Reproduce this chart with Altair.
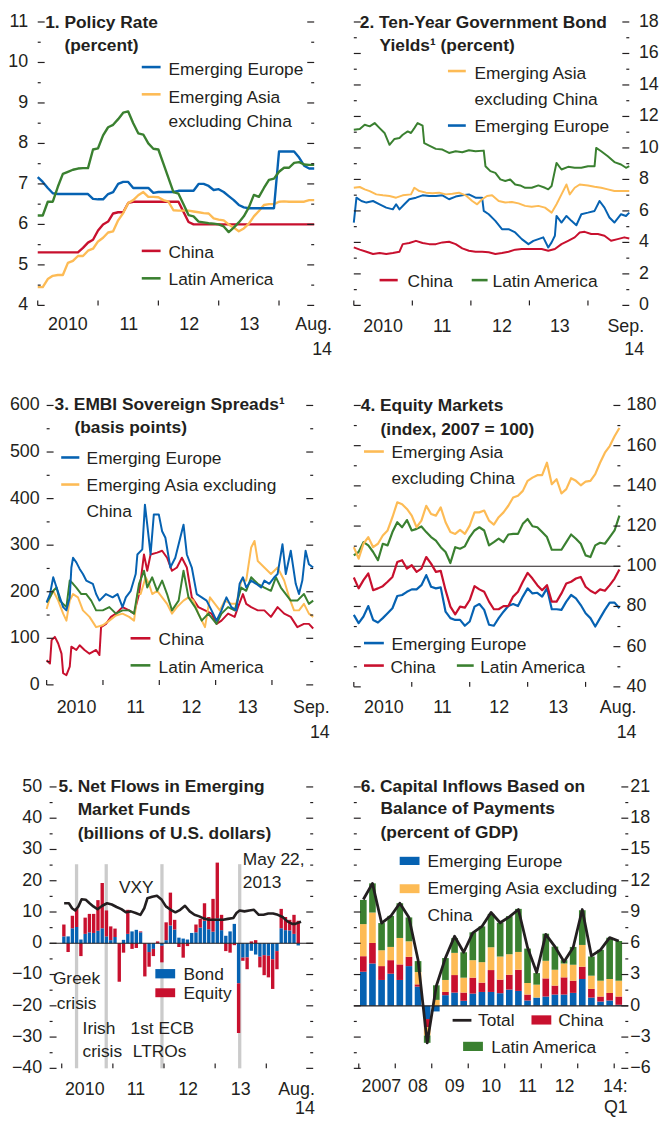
import altair as alt
import pandas as pd

FONT = "Liberation Sans, Arial, Helvetica, sans-serif"
INK = "#231f20"
BLUE = "#0662b2"
RED = "#c8102e"
ORANGE = "#fdbb55"
GREEN = "#3a8030"
BAND = "#cbcbcb"

# ---------------- Panel 1: policy rate (monthly, Jan 2010 - Aug 2014) ----------------
p1_months = [2010 + m / 12 for m in range(56)]
p1_europe = [7.17, 7.05, 6.9, 6.77, 6.75, 6.75, 6.75, 6.75, 6.75, 6.75,
             6.75, 6.63, 6.62, 6.62, 6.75, 6.8, 7.0, 7.05, 7.05, 6.9,
             6.9, 6.9, 6.9, 6.78, 6.8, 6.8, 6.8, 6.8, 6.83, 6.83,
             6.83, 6.83, 7.0, 7.0, 6.95, 6.85, 6.87, 6.8, 6.7, 6.6,
             6.48, 6.42, 6.4, 6.4, 6.4, 6.4, 6.4, 6.4, 7.8, 7.8,
             7.8, 7.8, 7.65, 7.45, 7.38, 7.38]
p1_asia = [4.45, 4.45, 4.65, 4.73, 4.75, 4.75, 5.05, 5.1, 5.22, 5.22,
           5.35, 5.4, 5.58, 5.67, 5.8, 5.83, 6.1, 6.28, 6.53, 6.6,
           6.72, 6.8, 6.68, 6.68, 6.67, 6.6, 6.56, 6.35, 6.34, 6.34,
           6.34, 6.32, 6.3, 6.28, 6.27, 6.15, 6.12, 6.1, 6.0, 5.92,
           5.83, 5.9, 6.02, 6.2, 6.33, 6.48, 6.5, 6.5, 6.56, 6.57,
           6.56, 6.56, 6.56, 6.56, 6.6, 6.6]
p1_china = [5.31] * 9 + [5.42, 5.55, 5.62, 5.85, 6.0, 6.07, 6.27, 6.3, 6.3, 6.53] \
    + [6.56] * 10 + [6.31, 6.06] + [6.0] * 25
p1_latam = [6.22, 6.22, 6.56, 6.56, 6.93, 7.25, 7.3, 7.35, 7.38, 7.39,
            7.39, 7.85, 7.88, 8.2, 8.4, 8.46, 8.6, 8.76, 8.79, 8.5,
            8.25, 8.22, 8.0, 7.87, 7.85, 7.5, 7.15, 6.8, 6.76, 6.5,
            6.23, 6.2, 6.07, 6.05, 6.03, 6.02, 6.0, 5.95, 5.81, 5.92,
            6.05, 6.2, 6.42, 6.73, 6.68, 6.9, 7.1, 7.13, 7.3, 7.4,
            7.4, 7.52, 7.54, 7.48, 7.47, 7.47]

# ---------------- Panel 2: ten-year bond yields (date as decimal year, percent) ----------------
p2_latam = [(2010.000, 11.16), (2010.102, 11.20), (2010.186, 11.47), (2010.271, 11.37), (2010.356, 11.58),
            (2010.441, 11.26), (2010.525, 10.95), (2010.610, 10.20), (2010.695, 10.57), (2010.780, 10.63),
            (2010.836, 10.84), (2010.921, 11.05), (2010.977, 10.95), (2011.034, 11.26), (2011.090, 11.58),
            (2011.175, 11.41), (2011.203, 10.30), (2011.288, 10.15), (2011.401, 9.94), (2011.514, 9.90),
            (2011.627, 9.68), (2011.740, 9.79), (2011.853, 9.73), (2011.966, 9.85), (2012.079, 9.79),
            (2012.220, 9.83), (2012.249, 8.84), (2012.333, 8.53), (2012.418, 8.42), (2012.503, 8.00),
            (2012.588, 7.90), (2012.672, 8.00), (2012.757, 7.68), (2012.842, 7.62), (2012.927, 7.47),
            (2013.040, 7.47), (2013.153, 7.62), (2013.266, 7.47), (2013.322, 7.37), (2013.379, 7.58),
            (2013.463, 9.05), (2013.548, 8.63), (2013.661, 8.80), (2013.774, 8.74), (2013.887, 8.74),
            (2014.000, 8.84), (2014.113, 8.84), (2014.141, 10.00), (2014.226, 9.79), (2014.339, 9.47),
            (2014.452, 9.10), (2014.565, 8.95), (2014.650, 8.74), (2014.706, 8.84)]
p2_asia = [(2010.000, 7.47), (2010.102, 7.52), (2010.186, 7.37), (2010.271, 7.26), (2010.384, 7.05),
           (2010.497, 6.99), (2010.610, 6.95), (2010.723, 6.84), (2010.836, 6.99), (2010.977, 7.05),
           (2011.034, 7.47), (2011.119, 7.26), (2011.232, 7.16), (2011.345, 7.12), (2011.458, 7.16),
           (2011.571, 7.05), (2011.684, 7.09), (2011.797, 7.16), (2011.910, 6.99), (2012.023, 6.63),
           (2012.107, 6.42), (2012.192, 6.74), (2012.277, 6.95), (2012.362, 6.99), (2012.475, 6.63),
           (2012.588, 6.53), (2012.701, 6.57), (2012.814, 6.48), (2012.927, 6.32), (2013.040, 6.27),
           (2013.153, 6.32), (2013.266, 6.21), (2013.379, 5.89), (2013.463, 6.42), (2013.548, 7.05),
           (2013.633, 7.68), (2013.689, 7.05), (2013.774, 7.47), (2013.859, 7.68), (2014.000, 7.62),
           (2014.113, 7.54), (2014.226, 7.47), (2014.339, 7.37), (2014.452, 7.26), (2014.565, 7.26),
           (2014.706, 7.26)]
p2_europe = [(2010.000, 5.26), (2010.045, 6.84), (2010.130, 6.63), (2010.215, 6.53), (2010.328, 6.63),
             (2010.441, 6.42), (2010.554, 6.21), (2010.667, 6.10), (2010.723, 6.42), (2010.780, 6.10),
             (2010.864, 6.42), (2010.949, 6.74), (2011.062, 6.84), (2011.175, 6.99), (2011.288, 6.95),
             (2011.401, 6.95), (2011.514, 6.99), (2011.627, 6.74), (2011.740, 6.91), (2011.853, 6.99),
             (2011.966, 7.05), (2012.079, 6.84), (2012.192, 6.84), (2012.220, 6.00), (2012.305, 5.79),
             (2012.418, 5.37), (2012.531, 4.84), (2012.644, 4.84), (2012.757, 4.63), (2012.870, 4.21),
             (2012.983, 3.89), (2013.068, 4.10), (2013.153, 4.21), (2013.237, 4.32), (2013.322, 3.68),
             (2013.379, 4.00), (2013.435, 4.42), (2013.463, 5.68), (2013.548, 5.26), (2013.633, 5.68),
             (2013.718, 5.37), (2013.802, 5.09), (2013.887, 5.79), (2014.000, 5.89), (2014.113, 6.00),
             (2014.198, 6.63), (2014.282, 6.21), (2014.367, 5.58), (2014.452, 5.26), (2014.565, 5.79),
             (2014.650, 5.68), (2014.706, 5.89)]
p2_china = [(2010.000, 3.68), (2010.102, 3.54), (2010.215, 3.41), (2010.328, 3.26), (2010.441, 3.33),
            (2010.554, 3.26), (2010.667, 3.33), (2010.780, 3.41), (2010.836, 3.89), (2010.949, 3.96),
            (2011.062, 4.10), (2011.175, 3.96), (2011.288, 3.89), (2011.401, 3.89), (2011.514, 4.00),
            (2011.627, 4.04), (2011.740, 3.89), (2011.853, 3.62), (2011.966, 3.47), (2012.079, 3.41),
            (2012.192, 3.41), (2012.305, 3.37), (2012.418, 3.26), (2012.531, 3.33), (2012.644, 3.41),
            (2012.757, 3.54), (2012.870, 3.58), (2012.983, 3.58), (2013.096, 3.58), (2013.209, 3.58),
            (2013.322, 3.47), (2013.435, 3.58), (2013.548, 3.89), (2013.661, 4.10), (2013.774, 4.32),
            (2013.859, 4.63), (2013.944, 4.67), (2014.056, 4.53), (2014.169, 4.53), (2014.282, 4.42),
            (2014.395, 4.10), (2014.508, 4.21), (2014.621, 4.32), (2014.706, 4.25)]

# ---------------- Panel 3: EMBI spreads (date as decimal year, basis points) ----------------
p3_europe = [(2010.000, 177), (2010.059, 195), (2010.117, 231), (2010.176, 209), (2010.234, 188), (2010.293, 167),
             (2010.351, 160), (2010.410, 188), (2010.439, 252), (2010.469, 273), (2010.527, 263), (2010.586, 249),
             (2010.644, 238), (2010.703, 224), (2010.820, 217), (2010.878, 195), (2010.937, 181), (2011.054, 195),
             (2011.171, 188), (2011.259, 195), (2011.347, 167), (2011.406, 188), (2011.493, 202), (2011.581, 238),
             (2011.611, 280), (2011.698, 291), (2011.745, 387), (2011.786, 344), (2011.845, 280), (2011.903, 366),
             (2011.991, 366), (2012.050, 330), (2012.108, 316), (2012.196, 252), (2012.284, 273), (2012.372, 316),
             (2012.430, 344), (2012.489, 280), (2012.577, 252), (2012.665, 195), (2012.753, 188), (2012.840, 181),
             (2012.928, 160), (2013.016, 138), (2013.104, 160), (2013.192, 188), (2013.280, 167), (2013.367, 160),
             (2013.426, 217), (2013.485, 231), (2013.543, 209), (2013.631, 224), (2013.719, 217), (2013.807, 209),
             (2013.865, 224), (2013.953, 217), (2014.041, 231), (2014.100, 238), (2014.187, 302), (2014.246, 238),
             (2014.334, 288), (2014.422, 217), (2014.480, 195), (2014.539, 224), (2014.597, 288), (2014.656, 259),
             (2014.732, 252)]
p3_asia = [(2010.000, 163), (2010.059, 188), (2010.117, 202), (2010.205, 181), (2010.293, 153), (2010.351, 138),
           (2010.410, 181), (2010.469, 195), (2010.556, 188), (2010.644, 160), (2010.761, 146), (2010.878, 124),
           (2010.996, 128), (2011.113, 138), (2011.230, 149), (2011.347, 153), (2011.464, 146), (2011.552, 138),
           (2011.611, 195), (2011.669, 195), (2011.757, 231), (2011.816, 217), (2011.874, 195), (2011.962, 202),
           (2012.050, 188), (2012.138, 174), (2012.225, 153), (2012.313, 167), (2012.430, 181), (2012.518, 188),
           (2012.606, 181), (2012.694, 153), (2012.811, 124), (2012.899, 188), (2012.987, 174), (2013.075, 160),
           (2013.162, 181), (2013.280, 174), (2013.367, 174), (2013.455, 224), (2013.543, 224), (2013.631, 295),
           (2013.690, 309), (2013.748, 266), (2013.865, 252), (2013.982, 238), (2014.100, 252), (2014.217, 224),
           (2014.305, 188), (2014.392, 160), (2014.480, 160), (2014.568, 174), (2014.656, 153), (2014.732, 146)]
p3_china = [(2010.000, 53), (2010.059, 46), (2010.088, 96), (2010.146, 103), (2010.205, 89), (2010.264, 67),
            (2010.293, 25), (2010.351, 21), (2010.410, 39), (2010.439, 82), (2010.527, 75), (2010.586, 85),
            (2010.673, 75), (2010.761, 67), (2010.878, 75), (2010.937, 64), (2010.966, 124), (2011.054, 131),
            (2011.142, 146), (2011.230, 153), (2011.347, 167), (2011.464, 160), (2011.552, 153), (2011.640, 195),
            (2011.728, 280), (2011.786, 245), (2011.845, 280), (2011.962, 284), (2012.050, 288), (2012.138, 273),
            (2012.225, 245), (2012.313, 252), (2012.401, 273), (2012.489, 252), (2012.577, 188), (2012.694, 167),
            (2012.811, 160), (2012.928, 153), (2013.016, 131), (2013.104, 138), (2013.221, 153), (2013.338, 146),
            (2013.397, 167), (2013.485, 195), (2013.543, 174), (2013.631, 167), (2013.748, 160), (2013.865, 160),
            (2013.982, 146), (2014.100, 167), (2014.217, 153), (2014.334, 146), (2014.451, 124), (2014.568, 131),
            (2014.656, 131), (2014.732, 121)]
p3_latam = [(2010.000, 177), (2010.059, 188), (2010.117, 202), (2010.176, 209), (2010.234, 181), (2010.293, 174),
            (2010.351, 167), (2010.410, 224), (2010.469, 217), (2010.527, 209), (2010.615, 195), (2010.703, 195),
            (2010.791, 181), (2010.878, 160), (2010.996, 160), (2011.113, 167), (2011.230, 153), (2011.347, 160),
            (2011.464, 160), (2011.552, 153), (2011.640, 217), (2011.728, 245), (2011.786, 209), (2011.874, 231),
            (2011.962, 202), (2012.050, 224), (2012.138, 195), (2012.225, 160), (2012.343, 181), (2012.430, 245),
            (2012.518, 188), (2012.635, 167), (2012.753, 138), (2012.870, 153), (2013.016, 131), (2013.104, 153),
            (2013.221, 167), (2013.338, 160), (2013.455, 209), (2013.543, 202), (2013.631, 231), (2013.748, 217),
            (2013.865, 209), (2013.982, 202), (2014.070, 231), (2014.158, 209), (2014.246, 195), (2014.334, 181),
            (2014.451, 181), (2014.568, 195), (2014.656, 174), (2014.732, 181)]

# ---------------- Panel 4: equity markets (monthly, index 2007 = 100) ----------------
p4_months = [2010 + m / 12 for m in range(56)]
p4_asia = [109.5, 103.8, 111.2, 114.5, 109.5, 111.2, 115.3, 117.8, 124.4, 131.8,
           130.9, 128.5, 125.2, 119.4, 122.7, 130.1, 126.0, 125.2, 129.3, 121.9,
           117.0, 116.1, 118.1, 116.1, 120.2, 126.8, 126.8, 127.7, 122.7, 120.7,
           124.4, 126.8, 130.1, 134.2, 135.1, 137.5, 142.5, 144.1, 145.3, 145.3,
           151.5, 140.8, 143.3, 136.2, 138.4, 143.8, 142.5, 140.3, 142.1, 142.5,
           145.8, 151.5, 156.5, 159.8, 164.7, 168.8]
p4_latam = [105.4, 107.1, 112.0, 110.4, 107.1, 103.0, 111.2, 110.4, 117.0, 121.9,
            119.4, 123.0, 117.8, 118.6, 119.8, 117.0, 114.5, 112.8, 109.5, 107.1,
            101.6, 109.5, 108.7, 109.9, 114.5, 117.8, 119.4, 117.8, 110.4, 112.0,
            113.7, 112.0, 115.8, 116.1, 116.1, 121.1, 123.5, 119.9, 119.4, 117.0,
            114.5, 108.2, 108.2, 108.2, 112.0, 115.8, 113.7, 111.2, 105.4, 104.6,
            110.4, 111.7, 111.2, 114.5, 117.8, 125.2]
p4_china = [94.4, 89.0, 93.1, 96.4, 88.1, 89.0, 90.1, 92.3, 94.7, 102.1,
            103.0, 98.8, 100.5, 97.2, 98.8, 104.6, 101.3, 97.2, 97.7, 88.1,
            79.9, 76.1, 79.9, 79.4, 83.2, 90.1, 88.5, 87.3, 82.4, 78.6,
            78.6, 80.2, 80.2, 84.9, 87.3, 92.3, 96.7, 93.9, 90.6, 88.1,
            90.6, 82.4, 82.4, 86.5, 91.4, 92.3, 93.9, 94.7, 89.8, 87.8,
            86.5, 88.5, 87.8, 90.6, 93.9, 98.4]
p4_europe = [75.8, 71.7, 75.0, 80.2, 73.3, 72.0, 74.2, 76.6, 79.1, 85.2,
             85.7, 87.3, 88.5, 88.5, 90.6, 95.6, 89.8, 89.0, 89.5, 77.4,
             74.2, 73.3, 73.3, 70.4, 72.5, 79.9, 81.2, 78.3, 70.9, 70.4,
             74.2, 77.4, 80.2, 81.2, 80.2, 84.9, 89.0, 86.5, 86.8, 84.9,
             89.0, 78.6, 78.6, 78.3, 82.4, 85.7, 84.0, 80.7, 76.6, 74.2,
             70.0, 74.2, 78.3, 81.9, 81.9, 79.1]

# ---------------- Panel 5: net flows in EM funds (monthly bars) + VXY ----------------
p5_months = [2010 + (m + 0.5) / 12 for m in range(56)]
p5_bond = [2.2, 2.2, 4.8, 5.2, 1.2, 3.0, 3.5, 3.3, 4.0, 4.8,
           2.2, 1.0, 2.0, 0.0, 1.1, 3.0, 3.8, 4.3, 3.5, 0.0,
           -2.8, -1.8, 0.0, -0.8, 1.0, 5.7, 4.4, 1.8, 1.5, 1.2,
           3.3, 3.5, 5.0, 7.2, 4.5, 3.7, 8.0, 4.2, 2.4, 3.8,
           6.2, -12.8, -4.6, -4.5, -2.4, -3.6, -4.3, -3.8, -4.0, -5.1,
           -2.5, 4.8, 4.2, 4.1, 3.0, -0.7]
p5_equity = [3.8, -2.8, 4.0, 6.0, -4.1, 5.2, 5.9, 6.1, 9.8, 14.5,
             8.3, 4.4, 2.7, -12.3, -3.0, 7.7, -1.8, -1.5, 0.3, -10.6,
             -4.7, -2.3, 0.6, -5.3, 5.7, 10.5, 3.1, -1.2, -4.6, -0.9,
             0.0, 2.5, 2.8, 5.6, 3.9, 10.5, 17.8, 4.9, -2.5, -3.0,
             -0.6, -15.9, -1.0, -3.8, 0.6, 1.0, -3.4, -6.4, -6.9, -9.5,
             -5.8, 6.2, 4.2, 3.4, 6.1, 7.2]
p5_vxy = [(2010.047, 12.8), (2010.140, 12.8), (2010.202, 11.2), (2010.264, 10.5), (2010.326, 11.8),
          (2010.389, 14.1), (2010.470, 13.9), (2010.544, 12.8), (2010.619, 11.8), (2010.700, 10.9),
          (2010.793, 12.0), (2010.886, 12.8), (2010.979, 12.4), (2011.073, 11.6), (2011.166, 10.9),
          (2011.259, 9.9), (2011.353, 10.2), (2011.446, 9.7), (2011.539, 9.1), (2011.614, 11.2),
          (2011.676, 14.4), (2011.769, 14.9), (2011.862, 15.2), (2011.956, 13.9), (2012.037, 11.8),
          (2012.130, 10.7), (2012.223, 9.9), (2012.317, 10.7), (2012.410, 12.0), (2012.503, 10.2),
          (2012.596, 9.1), (2012.690, 8.6), (2012.783, 7.9), (2012.876, 7.5), (2012.970, 7.5),
          (2013.063, 7.5), (2013.156, 7.5), (2013.249, 7.8), (2013.355, 8.1), (2013.417, 9.7),
          (2013.479, 10.5), (2013.573, 10.2), (2013.666, 10.5), (2013.759, 10.7), (2013.853, 9.1),
          (2013.946, 9.1), (2014.039, 9.5), (2014.132, 9.5), (2014.226, 9.1), (2014.319, 8.4),
          (2014.412, 7.0), (2014.506, 6.2), (2014.568, 6.2), (2014.630, 6.6), (2014.680, 6.9)]
p5_events = [2010.29, 2010.87, 2011.96, 2013.48]   # Greek, Irish, 1st ECB LTROs, May 22 2013
p5_event_top = 25.3

# ---------------- Panel 6: capital inflows, quarterly 2007:Q1 - 2014:Q1 ----------------
p6_quarters = [2007 + (q + 0.5) / 4 for q in range(29)]
p6_europe = [3.27, 4.06, 2.48, 3.08, 2.48, 3.81, 1.84, -1.27, -0.54, 1.02,
             1.27, 0.48, 1.17, 1.33, 1.33, 1.21, 1.56, 1.43, 0.51, 0.79,
             0.89, 1.08, 1.08, 1.24, 2.57, 0.79, 0.41, 0.51, 0.10]
p6_china = [1.49, 1.97, 1.33, 1.30, 1.49, 0.89, 0.22, -0.79, 0.0, 0.31,
            1.68, 0.79, 1.53, 0.89, 2.10, 1.30, 1.42, 2.03, 0.57, 0.0,
            1.74, 0.86, 1.65, 1.17, 1.18, 0.83, 0.48, 0.73, 0.79]
p6_asia = [3.08, 2.92, 1.52, 1.27, 2.54, 1.49, 1.18, -0.79, 0.57, 1.15,
           2.13, 1.43, 1.68, 1.97, 2.19, 2.22, 1.97, 1.71, 1.11, 1.24,
           1.69, 1.52, 1.33, 1.53, 2.09, 1.27, 1.52, 1.33, 1.52]
p6_latam = [2.32, 2.80, 2.61, 2.98, 3.33, 2.29, 1.05, -0.70, 1.40, 2.10,
            1.42, 2.44, 2.67, 3.43, 3.20, 3.24, 3.65, 4.13, 3.30, 1.11,
            2.60, 2.22, 0.32, 1.71, 3.33, 1.84, 2.96, 3.97, 3.81]
p6_total = [10.2, 11.75, 7.94, 8.6, 9.84, 8.48, 4.4, -3.56, 1.9, 4.6,
            6.67, 5.14, 7.0, 7.62, 8.95, 7.97, 8.54, 9.24, 5.59, 3.2,
            6.86, 5.68, 4.22, 5.59, 9.24, 4.79, 5.37, 6.54, 6.22]

# ---------------- helpers ----------------
ONE = pd.DataFrame({"k": [0]})


def num_label(v):
    return ("\u2212" if v < 0 else "") + str(abs(int(v)))


class Panel:
    """One chart panel: plot area starts at pixel m inside its group, is W wide and H tall."""

    def __init__(self, m, W, H, xdom, ydom):
        self.m, self.W, self.H, self.xdom, self.ydom = m, W, H, xdom, ydom
        self.layers = []

    def xs(self):
        return alt.Scale(domain=self.xdom, range=[self.m, self.m + self.W], nice=False, zero=False)

    def ys(self):
        return alt.Scale(domain=self.ydom, nice=False, zero=False)

    def X(self, f="t"):
        return alt.X(f + ":Q", scale=self.xs(), axis=None)

    def Y(self, f="v"):
        return alt.Y(f + ":Q", scale=self.ys(), axis=None)

    def add(self, *ls):
        self.layers.extend(ls)

    def text(self, x, y, s, bold=False, align="left", size=17.5):
        self.add(alt.Chart(ONE).mark_text(
            text=s, font=FONT, fontSize=size, fontWeight="bold" if bold else "normal",
            color=INK, align=align, baseline="middle").encode(
            x=alt.value(self.m + x), y=alt.value(y)))

    def dash(self, x0, x1, y, color, w=2.6):
        self.add(alt.Chart(ONE).mark_rule(color=color, strokeWidth=w).encode(
            x=alt.value(self.m + x0), x2=alt.value(self.m + x1), y=alt.value(y)))

    def swatch(self, x0, x1, y0, y1, color):
        self.add(alt.Chart(ONE).mark_rect(color=color).encode(
            x=alt.value(self.m + x0), x2=alt.value(self.m + x1), y=alt.value(y0), y2=alt.value(y1)))

    def line(self, ts, vs, color, w):
        df = pd.DataFrame({"t": ts, "v": vs})
        self.add(alt.Chart(df).mark_line(color=color, strokeWidth=w, strokeJoin="round").encode(
            x=self.X(), y=self.Y()))

    def pline(self, pairs, color, w):
        self.line([p[0] for p in pairs], [p[1] for p in pairs], color, w)

    def hrule(self, val, w=1.2):
        self.add(alt.Chart(pd.DataFrame({"v": [val]})).mark_rule(color=INK, strokeWidth=w).encode(
            y=self.Y(), x=alt.value(self.m), x2=alt.value(self.m + self.W)))

    def bars(self, ts, series, colors, width):
        rows = []
        for o, (vals, c) in enumerate(zip(series, colors)):
            for t, v in zip(ts, vals):
                rows.append({"t": t, "v": v, "o": o, "c": c})
        df = pd.DataFrame(rows)
        self.add(alt.Chart(df).transform_stack(
            stack="v", groupby=["t"], as_=["y0", "y1"],
            sort=[alt.SortField("o", "ascending")], offset="zero"
        ).mark_bar(width=width).encode(
            x=self.X(), y=self.Y("y0"), y2="y1:Q",
            color=alt.Color("c:N", scale=None)))

    def frame(self, major, minor, side, pad, years, lab_pos, labs, end_lines, end_dx, dy1, dy2):
        m, W, H = self.m, self.W, self.H
        for vals, L in ((major, 7), (minor, 3)):
            df = pd.DataFrame({"v": vals})
            for x0, x1 in ((m, m + L), (m + W - L, m + W)):
                self.add(alt.Chart(df).mark_rule(color=INK, strokeWidth=1.2).encode(
                    y=self.Y(), x=alt.value(x0), x2=alt.value(x1)))
        # y tick labels
        df = pd.DataFrame({"v": major, "s": [num_label(v) for v in major]})
        if side == "left":
            lx, al = m - pad, "right"
        else:
            lx, al = m + W + pad, "left"
        self.add(alt.Chart(df).mark_text(font=FONT, fontSize=18, color=INK, align=al,
                                         baseline="middle").encode(
            y=self.Y(), x=alt.value(lx), text="s:N"))
        # x axis line + inward year ticks
        xaxis = alt.Axis(domain=True, domainColor=INK, domainWidth=1.2, ticks=False,
                         labels=False, grid=False, title=None)
        self.add(alt.Chart(pd.DataFrame({"t": years})).mark_rule(color=INK, strokeWidth=1.2).encode(
            x=alt.X("t:Q", scale=self.xs(), axis=xaxis), y=alt.value(H - 5), y2=alt.value(H)))
        # x labels
        self.add(alt.Chart(pd.DataFrame({"t": lab_pos, "s": labs})).mark_text(
            font=FONT, fontSize=18, color=INK, align="center", baseline="middle").encode(
            x=self.X(), y=alt.value(H + dy1), text="s:N"))
        for line, dy in zip(end_lines, (dy1, dy2)):
            self.add(alt.Chart(pd.DataFrame({"t": [self.xdom[1]], "s": [line]})).mark_text(
                font=FONT, fontSize=18, color=INK, align="right", baseline="middle", dx=end_dx).encode(
                x=self.X(), y=alt.value(H + dy), text="s:N"))

    def chart(self):
        return alt.layer(*self.layers).properties(width=self.m + self.W, height=self.H)


YEARS10 = [2010, 2011, 2012, 2013, 2014]

# ---------------- Panel 1 ----------------
P = Panel(0, 279, 286, [2010.0, 2014.583], [4, 11])
P.line(p1_months, p1_china, RED, 2.4)
P.line(p1_months, p1_asia, ORANGE, 2.4)
P.line(p1_months, p1_europe, BLUE, 2.4)
P.line(p1_months, p1_latam, GREEN, 2.4)
P.frame(list(range(4, 12)), [4.5 + i for i in range(7)], "left", 9.7,
        YEARS10, [2010.5, 2011.51, 2012.51, 2013.51], ["2010", "11", "12", "13"],
        ["Aug.", "14"], 18, 20, 45)
P.text(7.5, 1, "1. Policy Rate", bold=True)
P.text(27, 24.5, "(percent)", bold=True)
P.dash(105, 124, 45.5, BLUE); P.text(132, 48.7, "Emerging Europe")
P.dash(105, 124, 73, ORANGE); P.text(132, 76.7, "Emerging Asia")
P.text(132, 101, "excluding China")
P.dash(105, 124, 231, RED); P.text(132, 233.2, "China")
P.dash(105, 124, 258.7, GREEN); P.text(132, 260.6, "Latin America")
c1 = P.chart()

# ---------------- Panel 2 ----------------
P = Panel(0, 278, 286, [2010.0, 2014.706], [0, 18])
P.pline(p2_china, RED, 2.0)
P.pline(p2_europe, BLUE, 2.0)
P.pline(p2_asia, ORANGE, 2.0)
P.pline(p2_latam, GREEN, 2.0)
P.frame(list(range(0, 19, 2)), list(range(1, 18, 2)), "right", 9.7,
        YEARS10, [2010.5, 2011.51, 2012.53, 2013.52], ["2010", "11", "12", "13"],
        ["Sep.", "14"], 15, 21.7, 45)
P.text(6, 1, "2. Ten-Year Government Bond", bold=True)
P.text(26, 24.5, "Yields\u00b9 (percent)", bold=True)
P.dash(95, 113, 49.5, ORANGE); P.text(121.7, 52.8, "Emerging Asia")
P.text(121.7, 78.4, "excluding China")
P.dash(95, 113, 104.5, BLUE); P.text(121.7, 106, "Emerging Europe")
P.dash(26, 44.3, 260.5, RED); P.text(54.3, 262.7, "China")
P.dash(119, 135, 260.5, GREEN); P.text(140, 262.7, "Latin America")
c2 = P.chart()

# ---------------- Panel 3 ----------------
P = Panel(9, 269, 282, [2010.0, 2014.732], [0, 600])
P.pline(p3_china, RED, 2.0)
P.pline(p3_asia, ORANGE, 2.0)
P.pline(p3_latam, GREEN, 2.0)
P.pline(p3_europe, BLUE, 2.0)
P.frame(list(range(0, 601, 100)), list(range(50, 600, 100)), "left", 7,
        YEARS10, [2010.53, 2011.58, 2012.57, 2013.57], ["2010", "11", "12", "13"],
        ["Sep.", "14"], 16.7, 23.8, 48.5)
P.text(8, 0, "3. EMBI Sovereign Spreads\u00b9", bold=True)
P.text(28, 23.3, "(basis points)", bold=True)
P.dash(14.7, 33, 52.5, BLUE); P.text(40.3, 53.8, "Emerging Europe")
P.dash(14.7, 33, 79.8, ORANGE); P.text(40.3, 81.5, "Emerging Asia excluding")
P.text(40.3, 107.2, "China")
P.dash(84.7, 104.7, 235, RED); P.text(113, 237.2, "China")
P.dash(84.7, 104.7, 262.3, GREEN); P.text(113, 264.8, "Latin America")
c3 = P.chart()

# ---------------- Panel 4 ----------------
P = Panel(0, 269, 284, [2010.0, 2014.6], [40, 180])
P.hrule(100, 1.2)
P.line(p4_months, p4_europe, BLUE, 2.2)
P.line(p4_months, p4_china, RED, 2.2)
P.line(p4_months, p4_latam, GREEN, 2.2)
P.line(p4_months, p4_asia, ORANGE, 2.2)
P.frame(list(range(40, 181, 20)), list(range(50, 180, 20)), "right", 6.3,
        YEARS10, [2010.52, 2011.53, 2012.51, 2013.53], ["2010", "11", "12", "13"],
        ["Aug.", "14"], 16.3, 21.8, 46.5)
P.text(7, 0.5, "4. Equity Markets", bold=True)
P.text(27, 24.8, "(index, 2007 = 100)", bold=True)
P.dash(10.3, 30.3, 46.5, ORANGE); P.text(38, 48.2, "Emerging Asia")
P.text(38, 73.8, "excluding China")
P.dash(10.3, 30.3, 239.8, BLUE); P.text(38, 242.2, "Emerging Europe")
P.dash(10.3, 30.3, 262.5, RED); P.text(37, 264.8, "China")
P.dash(104, 121, 262.5, GREEN); P.text(127.5, 264.8, "Latin America")
c4 = P.chart()

# ---------------- Panel 5 ----------------
P = Panel(12, 266, 284, [2009.86, 2014.82], [-40, 50])
P.add(alt.Chart(pd.DataFrame({"t": p5_events, "top": [p5_event_top] * len(p5_events),
                              "bot": [-40] * len(p5_events)})).mark_rule(
    color=BAND, strokeWidth=3.3).encode(x=P.X(), y=P.Y("top"), y2="bot:Q"))
P.bars(p5_months, [p5_bond, p5_equity], [BLUE, RED], 3.4)
P.hrule(0, 1.2)
P.pline(p5_vxy, INK, 2.6)
P.frame(list(range(-40, 51, 10)), list(range(-35, 50, 10)), "left", 7.5,
        YEARS10, [2010.45, 2011.45, 2012.47, 2013.5], ["2010", "11", "12", "13"],
        ["Aug.", "14"], 6.7, 21.5, 41)
P.text(9, 0.5, "5. Net Flows in Emerging", bold=True)
P.text(28.3, 23.8, "Market Funds", bold=True)
P.text(28.3, 47.2, "(billions of U.S. dollars)", bold=True)
P.text(70, 102.2, "VXY")
P.text(195, 73.8, "May 22,"); P.text(195, 96.5, "2013")
P.text(3.3, 193.8, "Greek"); P.text(7.3, 218.8, "crisis")
P.text(33.3, 244.5, "Irish"); P.text(33.3, 267.2, "crisis")
P.text(81.7, 244.5, "1st ECB"); P.text(84, 267.2, "LTROs")
P.swatch(106.7, 126.7, 183.8, 193.2, BLUE); P.text(135, 189.5, "Bond")
P.swatch(106.7, 126.7, 203.2, 212.2, RED); P.text(135, 208.8, "Equity")
c5 = P.chart()

# ---------------- Panel 6 ----------------
P = Panel(0, 277, 284, [2007.0, 2014.25], [-6, 21])
P.bars(p6_quarters, [p6_europe, p6_china, p6_asia, p6_latam], [BLUE, RED, ORANGE, GREEN], 6.7)
P.hrule(0, 1.2)
P.line(p6_quarters, p6_total, INK, 2.8)
P.frame(list(range(-6, 22, 3)), [-4.5 + 3 * i for i in range(9)], "right", 2,
        [2007, 2008, 2009, 2010, 2011, 2012, 2013, 2014],
        [2007.62, 2008.62, 2009.63, 2010.63, 2011.63, 2012.64],
        ["2007", "08", "09", "10", "11", "12"],
        ["14:", "Q1"], 4.5, 19.3, 40.5)
P.text(7, 0, "6. Capital Inflows Based on", bold=True)
P.text(27, 22.3, "Balance of Payments", bold=True)
P.text(27, 46.5, "(percent of GDP)", bold=True)
P.swatch(46.3, 66.3, 70.5, 78.8, BLUE); P.text(74.3, 75.5, "Emerging Europe")
P.swatch(46.3, 66.3, 98.2, 107.2, ORANGE); P.text(74.3, 103.2, "Emerging Asia excluding")
P.text(74.3, 129.8, "China")
P.dash(99.7, 118.7, 235.5, INK, 2.8); P.text(125.3, 236.2, "Total")
P.swatch(179.3, 199.3, 230.5, 239.8, RED); P.text(206.3, 236.2, "China")
P.swatch(110.3, 130.3, 257.2, 266.5, GREEN); P.text(138.7, 263.8, "Latin America")
c6 = P.chart()

chart = alt.concat(
    c1, c2, c3, c4, c5, c6,
    columns=2,
    spacing={"row": 101, "column": 40},
    align={"row": "each", "column": "none"},
    bounds="flush",
).configure_view(stroke=None).properties(
    padding={"left": 0, "top": 0, "right": 0, "bottom": -4}, background="white")

chart.save("out.html", embed_options={"renderer": "svg", "actions": False})
